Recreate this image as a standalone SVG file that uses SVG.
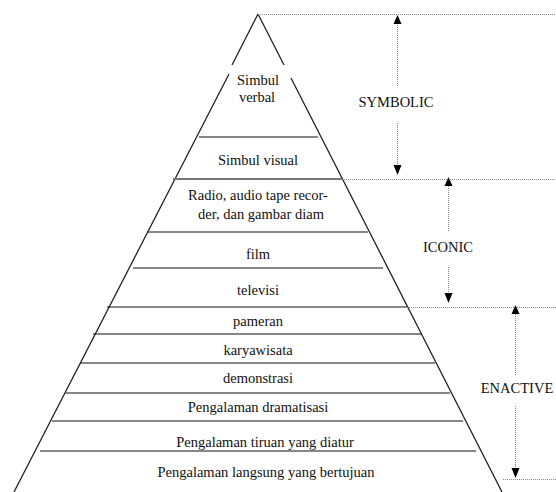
<svg xmlns="http://www.w3.org/2000/svg" width="556" height="492" viewBox="0 0 556 492">
<style>
text{font-family:'Liberation Serif','DejaVu Serif',serif;font-size:14.5px;fill:#111;text-anchor:middle}
.edge{stroke:#222;stroke-width:1.3;fill:none}
.sep{stroke:#111;stroke-width:1.2}
.sepg{stroke:#777;stroke-width:2}
.dot{stroke:#888;stroke-width:1;stroke-dasharray:1,1;fill:none}
.head{fill:#000}
</style>
<rect width="556" height="492" fill="#fff"/>
<g id="pyramid">
<path class="edge" d="M258,14 L232,65 M229,74 L14,492"/>
<path class="edge" d="M258,14 L284,65 M291,78 L502,492"/>
</g>
<g id="simbul-verbal"><text x="258" y="85">Simbul</text><text x="257" y="102">verbal</text></g>
<g id="simbul-visual"><line class="sep" x1="199" y1="137" x2="318" y2="137"/><text x="258" y="165">Simbul visual</text></g>
<g id="radio"><line class="sepg" x1="173" y1="179" x2="342" y2="179"/><text x="258" y="200">Radio, audio tape recor-</text><text x="261" y="219">der, dan gambar diam</text></g>
<g id="film"><line class="sep" x1="148" y1="232" x2="368" y2="232"/><text x="258" y="259">film</text></g>
<g id="televisi"><line class="sep" x1="133" y1="268" x2="383" y2="268"/><text x="258" y="295">televisi</text></g>
<g id="pameran"><line class="sep" x1="107" y1="307" x2="407" y2="307"/><text x="258" y="326">pameran</text></g>
<g id="karyawisata"><line class="sep" x1="93" y1="334" x2="422" y2="334"/><text x="258" y="355">karyawisata</text></g>
<g id="demonstrasi"><line class="sep" x1="80" y1="363" x2="435" y2="363"/><text x="258" y="383">demonstrasi</text></g>
<g id="dramatisasi"><line class="sep" x1="66" y1="393" x2="450" y2="393"/><text x="258" y="412">Pengalaman dramatisasi</text></g>
<g id="tiruan"><line class="sep" x1="52" y1="421" x2="463" y2="421"/><text x="265" y="447">Pengalaman tiruan yang diatur</text></g>
<g id="langsung"><line class="sep" x1="40" y1="451" x2="476" y2="451"/><text x="266" y="477">Pengalaman langsung yang bertujuan</text></g>
<g id="symbolic"><text x="396" y="107">SYMBOLIC</text></g>
<g id="iconic"><text x="448" y="252">ICONIC</text></g>
<g id="enactive"><text x="517" y="393">ENACTIVE</text></g>
<g id="connectors">
<path class="dot" d="M258,14.5 H556 M342,179.5 H556 M407,307.5 H556 M503,479.5 H556"/>
<path class="dot" d="M397.5,23 V86 M397.5,123 V165"/>
<path class="head" d="M397.5,15 L393.5,24 L401.5,24 Z M397.5,175 L393.5,165 L401.5,165 Z"/>
<path class="dot" d="M448.5,186 V232 M448.5,267 V294"/>
<path class="head" d="M448.5,177 L444.5,186 L452.5,186 Z M448.5,303 L444.5,293 L452.5,293 Z"/>
<path class="dot" d="M515.5,314 V376 M515.5,406 V469"/>
<path class="head" d="M515.5,305 L511.5,314 L519.5,314 Z M515.5,478 L511.5,468 L519.5,468 Z"/>
</g>
</svg>
